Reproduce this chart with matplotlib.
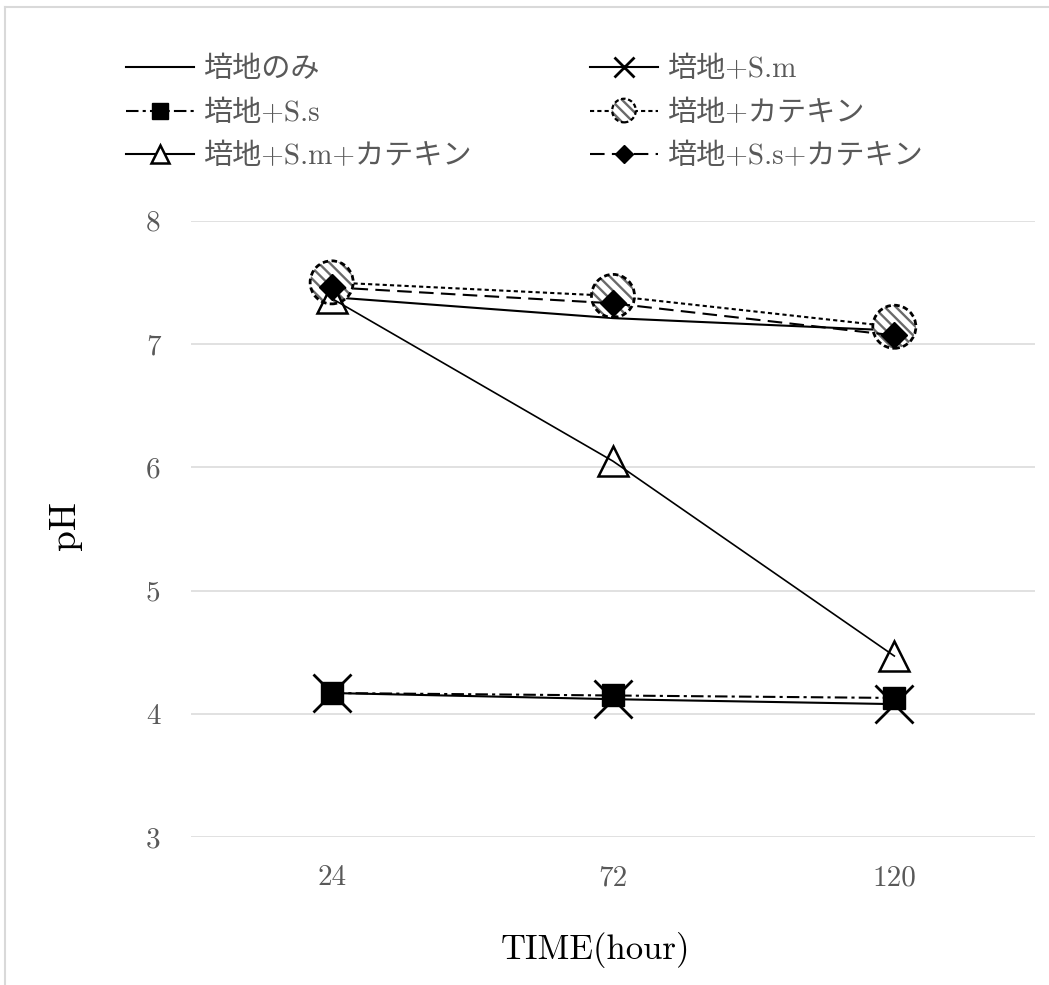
import numpy as np
import matplotlib
matplotlib.use('Agg')
import matplotlib.pyplot as plt
from matplotlib.lines import Line2D

plt.rcParams['font.family'] = ['cmr10', 'Noto Sans CJK JP', 'DejaVu Sans']
plt.rcParams['axes.unicode_minus'] = False
plt.rcParams['hatch.color'] = '#6a6a6a'
plt.rcParams['hatch.linewidth'] = 1.7

# ---- data ----
times = ['24', '72', '120']
labels = ['培地のみ', '培地+S.m', '培地+S.s', '培地+カテキン',
          '培地+S.m+カテキン', '培地+S.s+カテキン']
ph_medium = [7.38, 7.21, 7.11]
ph_sm = [4.17, 4.12, 4.08]
ph_ss = [4.17, 4.15, 4.13]
ph_catechin = [7.50, 7.39, 7.14]
ph_sm_catechin = [7.37, 6.05, 4.47]
ph_ss_catechin = [7.46, 7.33, 7.07]
yticks = [3, 4, 5, 6, 7, 8]

W, H = 1049, 985
fig = plt.figure(figsize=(W / 100, H / 100), dpi=100)
ax = fig.add_axes([191 / W, 1 - 837.3 / H, (1035 - 191) / W, (837.3 - 220.7) / H])

x = np.arange(len(times))
ax.set_xlim(-0.5, len(times) - 0.5)
ax.set_ylim(min(yticks), max(yticks))
ax.set_xticks(x)
ax.set_xticklabels(times)
ax.set_yticks(yticks)
ax.set_yticklabels([str(v) for v in yticks])
ax.grid(axis='y', color='#d9d9d9', lw=1.1)
ax.set_axisbelow(True)
for s in ax.spines.values():
    s.set_visible(False)
ax.tick_params(axis='both', length=0, labelsize=21, colors='#595959')
ax.tick_params(axis='y', pad=22)
ax.tick_params(axis='x', pad=20)

ls_dashdot = (0, (6, 2, 1.5, 2))
ls_dot = (0, (2, 1.5))
ls_long = (0, (7, 3.5))
HATCH = '\\' * 3

ax.plot(x, ph_medium, color='k', lw=1.5, zorder=3)
ax.plot(x, ph_sm, color='k', lw=1.5, marker='x', ms=28, mew=2, zorder=4)
ax.plot(x, ph_ss, color='k', lw=1.5, ls=ls_dashdot, marker='s', ms=16,
        mfc='k', mec='k', zorder=5)
ax.plot(x, ph_catechin, color='k', lw=1.5, ls=ls_dot, zorder=6)
ax.scatter(x, ph_catechin, s=31 ** 2, marker='o', facecolors='white',
           edgecolors='#6a6a6a', hatch=HATCH, linewidths=0, zorder=6.1)
ax.scatter(x, ph_catechin, s=31 ** 2, marker='o', facecolors='none',
           edgecolors='k', linewidths=2, linestyle=(0, (2, 1.2)), zorder=6.2)
ax.plot(x, ph_sm_catechin, color='k', lw=1.2, marker='^', ms=22, mfc='none',
        mec='k', mew=1.8, zorder=7)
ax.plot(x, ph_ss_catechin, color='k', lw=1.5, ls=ls_long, marker='D', ms=13,
        mfc='k', mec='k', zorder=8)

# legend proxies
h1 = Line2D([], [], color='k', lw=1.5)
h2 = Line2D([], [], color='k', lw=1.5, marker='x', ms=15, mew=2)
h3 = Line2D([], [], color='k', lw=1.5, ls=ls_dashdot, marker='s', ms=11, mfc='k')
sc_h = ax.scatter([], [], s=17 ** 2, marker='o', facecolors='white',
                  edgecolors='#6a6a6a', hatch=HATCH, linewidths=0)
sc_e = ax.scatter([], [], s=17 ** 2, marker='o', facecolors='none',
                  edgecolors='k', linewidths=1.6, linestyle=(0, (2, 1.2)))
h4 = (Line2D([], [], color='k', lw=1.5, ls=ls_dot), sc_h, sc_e)
h5 = Line2D([], [], color='k', lw=1.5, marker='^', ms=13, mfc='white', mec='k', mew=1.8)
h6 = Line2D([], [], color='k', lw=1.5, ls=ls_long, marker='D', ms=9, mfc='k')

leg_kw = dict(fontsize=21, frameon=False, borderpad=0, borderaxespad=0,
              handlelength=2.33, handletextpad=0.3, labelspacing=0.58,
              labelcolor='#595959', scatteryoffsets=[0.5], loc='upper left')
leg1 = fig.legend([h1, h3, h5], [labels[0], labels[2], labels[4]],
                  bbox_to_anchor=(126 / W, 1 - 57 / H), **leg_kw)
leg2 = fig.legend([h2, h4, h6], [labels[1], labels[3], labels[5]],
                  bbox_to_anchor=(590 / W, 1 - 57 / H), **leg_kw)

fig.text(65 / W, 1 - 525 / H, 'pH', rotation=90, ha='center', va='center',
         fontsize=27, color='k')
fig.text(595 / W, 1 - 950 / H, 'TIME(hour)', ha='center', va='center',
         fontsize=25, color='k')

# outer chart border (light gray)
fig.add_artist(Line2D([5 / W, 5 / W], [0, 1 - 6.5 / H], transform=fig.transFigure,
                      color='#d9d9d9', lw=1.5))
fig.add_artist(Line2D([5 / W, 1], [1 - 6.5 / H, 1 - 6.5 / H], transform=fig.transFigure,
                      color='#d9d9d9', lw=1.5))

fig.savefig('out.png', dpi=100)
